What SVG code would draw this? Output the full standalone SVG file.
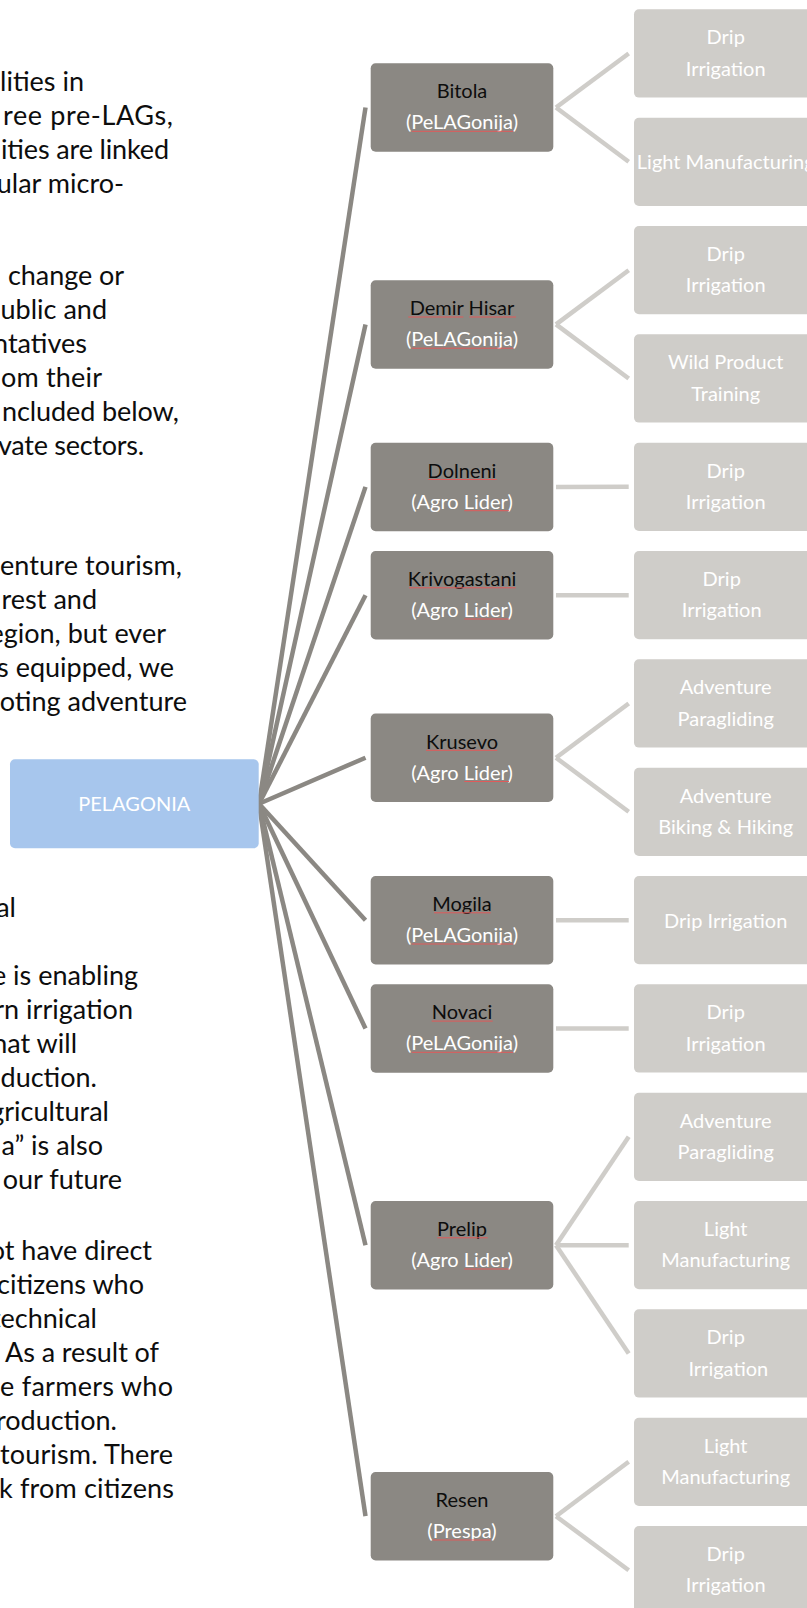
<svg xmlns="http://www.w3.org/2000/svg" width="807" height="1608" viewBox="0 0 807 1608">
<style>
.body{font-family:Lato,"Liberation Sans",sans-serif;font-size:27px;fill:#0d0d0d;text-anchor:end}
.body .s{text-anchor:start}
.city{fill:#8b8883}
.act{fill:#cfcdc9}
.hub{fill:#a7c6ed}
.t1{font-family:Lato,"Liberation Sans",sans-serif;font-size:20px;fill:#0d0d0d;text-anchor:middle}
.t2{font-family:Lato,"Liberation Sans",sans-serif;font-size:20px;fill:#fff;text-anchor:middle}
.dk{stroke:#8b8883;stroke-width:4.5;fill:none}
.lt{stroke:#cfcdc9;stroke-width:4.5;fill:none}
.sp{stroke:#e05a5a;stroke-width:1;fill:none}
</style>
<rect width="807" height="1608" fill="#fff"/>
<g id="body-text" class="body">
<text x="84" y="91">lities in</text>
<text class="s" x="3" y="125" textLength="170">ree pre-LAGs,</text>
<text class="s" x="1" y="159" textLength="168">ities are linked</text>
<text x="124" y="193">ular micro-</text>
<text class="s" x="8" y="285" textLength="116">change or</text>
<text x="107" y="319">ublic and</text>
<text x="87" y="353">ntatives</text>
<text class="s" x="1" y="387" textLength="101">om their</text>
<text class="s" x="2" y="421" textLength="177">ncluded below,</text>
<text class="s" x="-2" y="455" textLength="146">vate sectors.</text>
<text class="s" x="0" y="575" textLength="182">enture tourism,</text>
<text x="97" y="609">rest and</text>
<text x="166" y="643">egion, but ever</text>
<text x="174" y="677">s equipped, we</text>
<text x="187" y="711">oting adventure</text>
<text x="16" y="917">al</text>
<text x="138" y="985">e is enabling</text>
<text x="133" y="1019">rn irrigation</text>
<text x="77" y="1053">hat will</text>
<text x="97" y="1087">oduction.</text>
<text x="109" y="1121">gricultural</text>
<text x="103" y="1155">a” is also</text>
<text x="122" y="1189">our future</text>
<text x="152" y="1260">ot have direct</text>
<text x="144" y="1294">citizens who</text>
<text x="97" y="1328">technical</text>
<text class="s" x="5" y="1362" textLength="154">As a result of</text>
<text class="s" x="0" y="1396" textLength="173">e farmers who</text>
<text x="117" y="1430">roduction.</text>
<text class="s" x="0" y="1464" textLength="173">tourism. There</text>
<text class="s" x="-1" y="1498" textLength="175">k from citizens</text>
</g>
<g id="connectors">
<line class="dk" x1="259" y1="803.8" x2="365.5" y2="107.5"/>
<line class="dk" x1="259" y1="803.8" x2="365.5" y2="324.4"/>
<line class="dk" x1="259" y1="803.8" x2="365.5" y2="486.9"/>
<line class="dk" x1="259" y1="803.8" x2="365.5" y2="595.2"/>
<line class="dk" x1="259" y1="803.8" x2="365.5" y2="757.7"/>
<line class="dk" x1="259" y1="803.8" x2="365.5" y2="920.2"/>
<line class="dk" x1="259" y1="803.8" x2="365.5" y2="1028.5"/>
<line class="dk" x1="259" y1="803.8" x2="365.5" y2="1245.2"/>
<line class="dk" x1="259" y1="803.8" x2="365.5" y2="1516.2"/>
<line class="lt" x1="556" y1="107.5" x2="628.7" y2="53.5"/>
<line class="lt" x1="556" y1="107.5" x2="628.7" y2="161.8"/>
<line class="lt" x1="556" y1="324.4" x2="628.7" y2="270.2"/>
<line class="lt" x1="556" y1="324.4" x2="628.7" y2="378.5"/>
<line class="lt" x1="556" y1="486.9" x2="628.7" y2="486.8"/>
<line class="lt" x1="556" y1="595.2" x2="628.7" y2="595.2"/>
<line class="lt" x1="556" y1="757.7" x2="628.7" y2="703.5"/>
<line class="lt" x1="556" y1="757.7" x2="628.7" y2="811.8"/>
<line class="lt" x1="556" y1="920.2" x2="628.7" y2="920.2"/>
<line class="lt" x1="556" y1="1028.5" x2="628.7" y2="1028.5"/>
<line class="lt" x1="556" y1="1245.2" x2="628.7" y2="1136.8"/>
<line class="lt" x1="556" y1="1245.2" x2="628.7" y2="1245.2"/>
<line class="lt" x1="556" y1="1245.2" x2="628.7" y2="1353.5"/>
<line class="lt" x1="556" y1="1516.2" x2="628.7" y2="1461.8"/>
<line class="lt" x1="556" y1="1516.2" x2="628.7" y2="1570.2"/>
</g>
<g id="pelagonia">
<rect class="hub" x="10" y="759.3" width="248.7" height="89" rx="5"/>
<text class="t2" x="134.3" y="811">PELAGONIA</text>
</g>
<g id="bitola">
<rect class="city" x="370.7" y="63.3" width="182.6" height="88.5" rx="5"/>
<text class="t1" x="462" y="98.3">Bitola</text>
<text class="t2" x="462" y="129.3">(PeLAGonija)</text>
<line class="sp" x1="411.7" y1="131.3" x2="513.3" y2="131.3"/>
</g>
<g id="demir-hisar">
<rect class="city" x="370.7" y="280.2" width="182.6" height="88.5" rx="5"/>
<text class="t1" x="462" y="315.2">Demir Hisar</text>
<text class="t2" x="462" y="346.2">(PeLAGonija)</text>
<line class="sp" x1="408.3" y1="317" x2="463.3" y2="317"/>
<line class="sp" x1="469.3" y1="317" x2="516" y2="317"/>
<line class="sp" x1="411.7" y1="348.2" x2="513.3" y2="348.2"/>
</g>
<g id="dolneni">
<rect class="city" x="370.7" y="442.7" width="182.6" height="88.5" rx="5"/>
<text class="t1" x="462" y="477.7">Dolneni</text>
<text class="t2" x="462" y="508.7">(Agro Lider)</text>
<line class="sp" x1="428.3" y1="479.5" x2="496.7" y2="479.5"/>
<line class="sp" x1="464.3" y1="510.7" x2="509" y2="510.7"/>
</g>
<g id="krivogastani">
<rect class="city" x="370.7" y="551" width="182.6" height="88.5" rx="5"/>
<text class="t1" x="462" y="586">Krivogastani</text>
<text class="t2" x="462" y="617">(Agro Lider)</text>
<line class="sp" x1="409" y1="587.8" x2="515.7" y2="587.8"/>
<line class="sp" x1="464.3" y1="619" x2="509" y2="619"/>
</g>
<g id="krusevo">
<rect class="city" x="370.7" y="713.5" width="182.6" height="88.5" rx="5"/>
<text class="t1" x="462" y="748.5">Krusevo</text>
<text class="t2" x="462" y="779.5">(Agro Lider)</text>
<line class="sp" x1="426" y1="750.3" x2="497.3" y2="750.3"/>
<line class="sp" x1="464.3" y1="781.5" x2="509" y2="781.5"/>
</g>
<g id="mogila">
<rect class="city" x="370.7" y="876" width="182.6" height="88.5" rx="5"/>
<text class="t1" x="462" y="911">Mogila</text>
<text class="t2" x="462" y="942">(PeLAGonija)</text>
<line class="sp" x1="434" y1="912.8" x2="490.7" y2="912.8"/>
<line class="sp" x1="411.7" y1="944" x2="513.3" y2="944"/>
</g>
<g id="novaci">
<rect class="city" x="370.7" y="984.3" width="182.6" height="88.5" rx="5"/>
<text class="t1" x="462" y="1019.3">Novaci</text>
<text class="t2" x="462" y="1050.3">(PeLAGonija)</text>
<line class="sp" x1="431.7" y1="1021.1" x2="492.7" y2="1021.1"/>
<line class="sp" x1="411.7" y1="1052.3" x2="513.3" y2="1052.3"/>
</g>
<g id="prelip">
<rect class="city" x="370.7" y="1201" width="182.6" height="88.5" rx="5"/>
<text class="t1" x="462" y="1236">Prelip</text>
<text class="t2" x="462" y="1267">(Agro Lider)</text>
<line class="sp" x1="437.3" y1="1237.8" x2="487.7" y2="1237.8"/>
<line class="sp" x1="464.3" y1="1269" x2="509" y2="1269"/>
</g>
<g id="resen">
<rect class="city" x="370.7" y="1472" width="182.6" height="88.5" rx="5"/>
<text class="t1" x="462" y="1507">Resen</text>
<text class="t2" x="462" y="1538">(Prespa)</text>
<line class="sp" x1="432.7" y1="1540" x2="490.7" y2="1540"/>
</g>
<g id="a0"><rect class="act" x="634" y="9.3" width="183" height="88.3" rx="5"/><text class="t2" x="725.7" y="44.3">Drip</text><text class="t2" x="725.7" y="75.7">Irrigation</text></g>
<g id="a1"><rect class="act" x="634" y="117.7" width="183" height="88.3" rx="5"/><text class="t2" x="725.7" y="169.3">Light Manufacturing</text></g>
<g id="a2"><rect class="act" x="634" y="226" width="183" height="88.3" rx="5"/><text class="t2" x="725.7" y="261">Drip</text><text class="t2" x="725.7" y="292.4">Irrigation</text></g>
<g id="a3"><rect class="act" x="634" y="334.3" width="183" height="88.3" rx="5"/><text class="t2" x="725.7" y="369.3">Wild Product</text><text class="t2" x="725.7" y="400.7">Training</text></g>
<g id="a4"><rect class="act" x="634" y="442.7" width="183" height="88.3" rx="5"/><text class="t2" x="725.7" y="477.7">Drip</text><text class="t2" x="725.7" y="509.1">Irrigation</text></g>
<g id="a5"><rect class="act" x="634" y="551" width="183" height="88.3" rx="5"/><text class="t2" x="721.7" y="586">Drip</text><text class="t2" x="721.7" y="617.4">Irrigation</text></g>
<g id="a6"><rect class="act" x="634" y="659.3" width="183" height="88.3" rx="5"/><text class="t2" x="725.7" y="694.3">Adventure</text><text class="t2" x="725.7" y="725.7">Paragliding</text></g>
<g id="a7"><rect class="act" x="634" y="767.7" width="183" height="88.3" rx="5"/><text class="t2" x="725.7" y="802.7">Adventure</text><text class="t2" x="725.7" y="834.1">Biking &amp; Hiking</text></g>
<g id="a8"><rect class="act" x="634" y="876" width="183" height="88.3" rx="5"/><text class="t2" x="725.7" y="927.7">Drip Irrigation</text></g>
<g id="a9"><rect class="act" x="634" y="984.3" width="183" height="88.3" rx="5"/><text class="t2" x="725.7" y="1019.3">Drip</text><text class="t2" x="725.7" y="1050.7">Irrigation</text></g>
<g id="a10"><rect class="act" x="634" y="1092.7" width="183" height="88.3" rx="5"/><text class="t2" x="725.7" y="1127.7">Adventure</text><text class="t2" x="725.7" y="1159.1">Paragliding</text></g>
<g id="a11"><rect class="act" x="634" y="1201" width="183" height="88.3" rx="5"/><text class="t2" x="725.7" y="1236">Light</text><text class="t2" x="725.7" y="1267.4">Manufacturing</text></g>
<g id="a12"><rect class="act" x="634" y="1309.3" width="183" height="88.3" rx="5"/><text class="t2" x="725.7" y="1344.3">Drip</text><text class="t2" x="728.3" y="1375.7">Irrigation</text></g>
<g id="a13"><rect class="act" x="634" y="1417.7" width="183" height="88.3" rx="5"/><text class="t2" x="725.7" y="1452.7">Light</text><text class="t2" x="725.7" y="1484.1">Manufacturing</text></g>
<g id="a14"><rect class="act" x="634" y="1526" width="183" height="88.3" rx="5"/><text class="t2" x="725.7" y="1561">Drip</text><text class="t2" x="725.7" y="1592.4">Irrigation</text></g>
</svg>
